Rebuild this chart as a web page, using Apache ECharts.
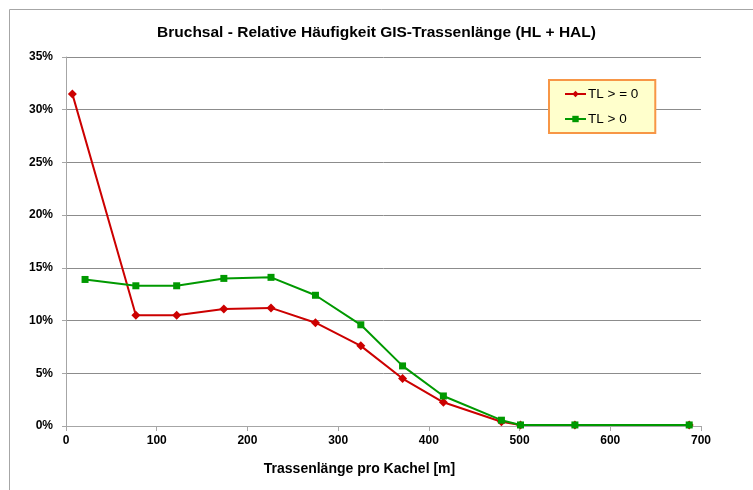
<!DOCTYPE html>
<html>
<head>
<meta charset="utf-8">
<script src="https://cdn.jsdelivr.net/npm/echarts@6/dist/echarts.min.js"></script>
<style>
  html, body { margin: 0; padding: 0; background: #fff; }
  #chart { width: 753px; height: 490px; }
</style>
</head>
<body>
<div id="chart"></div>
<script>
// Trassenlänge pro Kachel [m] (x) and relative frequency in % (y)
const tlGe0X = [7, 77, 122, 174, 226, 275, 325, 371, 416, 480, 501, 561, 687];
const tlGe0Y = [31.5, 10.5, 10.5, 11.1, 11.2, 9.8, 7.6, 4.5, 2.25, 0.4, 0.1, 0.1, 0.1];
const tlGt0X = [21, 77, 122, 174, 226, 275, 325, 371, 416, 480, 501, 561, 687];
const tlGt0Y = [13.9, 13.3, 13.3, 14.0, 14.1, 12.4, 9.6, 5.7, 2.85, 0.55, 0.1, 0.1, 0.1];
const seriesNames = ['TL > = 0', 'TL > 0'];
const titleText = 'Bruchsal - Relative Häufigkeit GIS-Trassenlänge (HL + HAL)';
const xAxisName = 'Trassenlänge pro Kachel [m]';

const pairs = (xs, ys) => xs.map((x, i) => [x, ys[i]]);
const font = '"Liberation Sans", Arial, sans-serif';

const chart = echarts.init(document.getElementById('chart'), null, { renderer: 'canvas' });
chart.setOption({
  animation: false,
  backgroundColor: '#fff',
  textStyle: { fontFamily: font },
  title: {
    text: titleText,
    left: 'center',
    top: 20,
    textStyle: { fontFamily: font, fontSize: 15.5, fontWeight: 'bold', color: '#000' }
  },
  graphic: [{
    type: 'rect',
    shape: { x: 9.5, y: 9.5, width: 900, height: 700 },
    style: { fill: null, stroke: '#a6a6a6', lineWidth: 1 },
    silent: true,
    z: -1
  }],
  legend: {
    orient: 'vertical',
    left: 549,
    top: 80,
    width: 105,
    padding: [7, 17, 7, 15],
    itemGap: 11,
    itemWidth: 21,
    itemHeight: 8,
    backgroundColor: '#FFFFCC',
    borderColor: '#F79646',
    borderWidth: 2,
    textStyle: { fontFamily: font, fontSize: 13.5, color: '#000', padding: [0, 0, 0, -3] },
    data: seriesNames
  },
  grid: { left: 66, right: 52, top: 57, bottom: 64, containLabel: false },
  xAxis: {
    type: 'value',
    min: 0, max: 700, interval: 100,
    name: xAxisName,
    nameLocation: 'middle',
    nameGap: 36,
    nameTextStyle: { fontFamily: font, fontSize: 14, fontWeight: 'bold', color: '#000', padding: [0, 48, 0, 0] },
    axisLine: { show: true, lineStyle: { color: '#a6a6a6', width: 1 } },
    axisTick: { show: true, length: 5, lineStyle: { color: '#a6a6a6' } },
    axisLabel: { fontFamily: font, fontSize: 12, fontWeight: 'bold', color: '#000', margin: 9 },
    splitLine: { show: false }
  },
  yAxis: {
    type: 'value',
    min: 0, max: 35, interval: 5,
    axisLine: { show: true, lineStyle: { color: '#a6a6a6', width: 1 } },
    axisTick: { show: true, length: 4, lineStyle: { color: '#a6a6a6' } },
    axisLabel: { fontFamily: font, fontSize: 12, fontWeight: 'bold', color: '#000', margin: 13, formatter: '{value}%' },
    splitLine: { show: true, lineStyle: { color: '#8c8c8c', width: 1 } }
  },
  series: [
    {
      name: seriesNames[0],
      type: 'line',
      data: pairs(tlGe0X, tlGe0Y),
      color: '#CC0000',
      lineStyle: { width: 2 },
      symbol: 'diamond',
      symbolSize: 9,
      z: 2
    },
    {
      name: seriesNames[1],
      type: 'line',
      data: pairs(tlGt0X, tlGt0Y),
      color: '#009900',
      lineStyle: { width: 2 },
      symbol: 'rect',
      symbolSize: 7,
      z: 3
    }
  ]
});
</script>
</body>
</html>
